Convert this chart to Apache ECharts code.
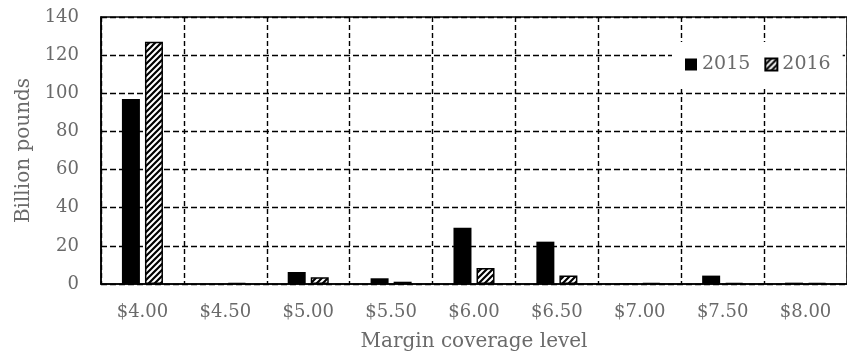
<!DOCTYPE html>
<html>
<head>
<meta charset="utf-8">
<script src="https://cdn.jsdelivr.net/npm/echarts@6/dist/echarts.min.js"></script>
<style>html,body{margin:0;padding:0;background:#fff}#c{width:847px;height:360px}</style>
</head>
<body>
<div id="c"></div>
<script>
const categories = ['$4.00','$4.50','$5.00','$5.50','$6.00','$6.50','$7.00','$7.50','$8.00'];
const values2015 = [97, 0, 6.3, 3, 29.5, 22.2, 0.5, 4.4, 0.7];
const values2016 = [127, 0.4, 3.5, 1.2, 8.4, 4.5, 0.5, 0.5, 0.5];
const yTicks = {min: 0, max: 140, interval: 20};

function hatch() {
  const s = 6;
  const c = document.createElement('canvas');
  c.width = s; c.height = s;
  const g = c.getContext('2d');
  g.fillStyle = '#fff'; g.fillRect(0, 0, s, s);
  g.strokeStyle = '#000'; g.lineWidth = 2.2;
  g.beginPath();
  g.moveTo(0, s); g.lineTo(s, 0);
  g.moveTo(-1, 1); g.lineTo(1, -1);
  g.moveTo(s - 1, s + 1); g.lineTo(s + 1, s - 1);
  g.stroke();
  return c;
}

const FONT = 'DejaVu Serif';
const TXT = '#6a6a6a';
const chart = echarts.init(document.getElementById('c'), null, {renderer: 'canvas'});
chart.setOption({
  animation: false,
  backgroundColor: '#fff',
  grid: {left: 101, top: 17, right: -7, bottom: 76, show: true, borderColor: '#000', borderWidth: 1.5, backgroundColor: 'transparent'},
  legend: {
    left: 672, top: 42, padding: [13, 12, 13, 13], itemWidth: 12, itemHeight: 12, itemGap: 14,
    backgroundColor: '#fff',
    textStyle: {fontFamily: FONT, fontSize: 19, color: TXT},
    data: [{name: '2015', icon: 'rect'}, {name: '2016', icon: 'rect'}]
  },
  xAxis: {
    type: 'category', data: categories,
    axisLine: {show: true, lineStyle: {color: '#000', width: 1.5}},
    axisTick: {show: false},
    axisLabel: {fontFamily: FONT, fontSize: 18, color: TXT, margin: 19},
    splitLine: {show: true, lineStyle: {color: '#000', type: [5, 3], width: 1.4}},
    name: 'Margin coverage level', nameLocation: 'middle', nameGap: 48,
    nameTextStyle: {fontFamily: FONT, fontSize: 20, color: TXT}
  },
  yAxis: {
    type: 'value', min: yTicks.min, max: yTicks.max, interval: yTicks.interval,
    axisLine: {show: true, lineStyle: {color: '#000', width: 1.5}},
    axisTick: {show: false},
    axisLabel: {fontFamily: FONT, fontSize: 18, color: TXT, margin: 22},
    splitLine: {show: true, lineStyle: {color: '#000', type: [6, 3], width: 1.4}},
    name: 'Billion pounds', nameLocation: 'middle', nameGap: 67,
    nameTextStyle: {fontFamily: FONT, fontSize: 20, color: TXT}
  },
  series: [
    {name: '2015', type: 'bar', data: values2015, barWidth: 18, barGap: '28%',
     itemStyle: {color: '#000', borderColor: '#000', borderWidth: 0}},
    {name: '2016', type: 'bar', data: values2016, barWidth: 18,
     itemStyle: {color: {image: hatch(), repeat: 'repeat'}, borderColor: '#000', borderWidth: 1.5}}
  ]
});
</script>
</body>
</html>
